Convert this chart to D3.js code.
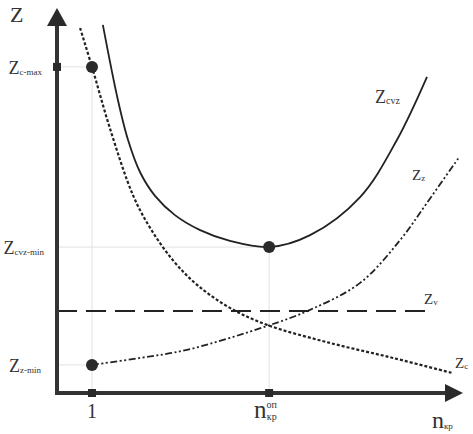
<!DOCTYPE html>
<html>
<head>
<meta charset="utf-8">
<script src="https://cdn.jsdelivr.net/npm/d3@7"></script>
<style>
  body { margin: 0; background: #fff; }
  text { font-family: "Liberation Serif", "DejaVu Serif", serif; fill: #333; }
</style>
</head>
<body>
<svg id="chart"></svg>
<script>
// curve values (x in n units, y in Z units)
let zcX   = [0.66, 1, 1.51, 2.17, 2.66, 3.31, 4, 4.94, 6, 7.8, 9.6, 11.29];
let zcY   = [94.8, 84.7, 68.8, 51.4, 42.9, 34.5, 28.1, 22.1, 17.7, 13.0, 9.1, 5.2];

let zcvzX = [1.31, 1.74, 2.03, 2.37, 2.8, 3.37, 4.09, 4.94, 6.06, 7.23, 8.66, 9.71, 10.57];
let zcvzY = [95.6, 76.1, 65.7, 57.4, 51.2, 46.2, 42.3, 39.5, 37.9, 41.0, 50.9, 65.7, 82.1];

let zzX   = [1, 2.37, 3.71, 6, 7.23, 8.66, 9.8, 10.57, 11.49];
let zzY   = [7.3, 9.1, 11.2, 17.4, 21.6, 28.6, 39.7, 49.4, 61.3];

let zvX   = [0, 10.71];
let zvY   = [21.3, 21.3];

let nOpt = 6.06;
let zcMax = 84.7, zcvzMin = 37.9, zzMin = 7.3;

let width = 473,
    height = 434;

let svg = d3.select("svg#chart")
    .attr("width", width)
    .attr("height", height);

let x = d3.scaleLinear().domain([0, 11.57]).range([57, 462]);
let y = d3.scaleLinear().domain([0, 100]).range([393, 8]);

let line = d3.line()
    .x(d => x(d[0]))
    .y(d => y(d[1]))
    .curve(d3.curveCatmullRom.alpha(0.5));

// light guide lines
let guides = [
    [[0, zcMax], [1, zcMax]],
    [[1, zcMax], [1, 0]],
    [[0, zcvzMin], [nOpt, zcvzMin]],
    [[nOpt, zcvzMin], [nOpt, 0]],
    [[0, zzMin], [1, zzMin]]
];
guides.forEach(g => {
    svg.append("line")
        .attr("x1", x(g[0][0])).attr("y1", y(g[0][1]))
        .attr("x2", x(g[1][0])).attr("y2", y(g[1][1]))
        .attr("stroke", "#e2e2e2")
        .attr("stroke-width", 1);
});

// curves
function drawCurve(xs, ys, dash, w) {
    svg.append("path")
        .datum(xs.map((v, i) => [v, ys[i]]))
        .attr("fill", "none")
        .attr("stroke", "#222")
        .attr("stroke-width", w)
        .attr("stroke-dasharray", dash)
        .attr("d", line);
}
drawCurve(zvX, zvY, "20,9", 2);
drawCurve(zcX, zcY, "3,2", 2.2);
drawCurve(zzX, zzY, "7,2.5,2,2.5,2,2.5", 1.8);
drawCurve(zcvzX, zcvzY, null, 1.8);

// axes
svg.append("line")
    .attr("x1", x(0)).attr("y1", y(0) + 2)
    .attr("x2", x(0)).attr("y2", 22)
    .attr("stroke", "#333").attr("stroke-width", 4);
svg.append("line")
    .attr("x1", x(0) - 2).attr("y1", y(0))
    .attr("x2", 448).attr("y2", y(0))
    .attr("stroke", "#333").attr("stroke-width", 4);
svg.append("path")
    .attr("d", `M${x(0)},8 L${x(0) - 10},26 L${x(0) + 10},26 Z`)
    .attr("fill", "#2a2a2a");
svg.append("path")
    .attr("d", `M463,${y(0)} L445,${y(0) - 9} L445,${y(0) + 9} Z`)
    .attr("fill", "#2a2a2a");

// tick squares
[[0, zcMax], [1, 0], [nOpt, 0]].forEach(p => {
    svg.append("rect")
        .attr("x", x(p[0]) - 4).attr("y", y(p[1]) - 4)
        .attr("width", 8).attr("height", 8)
        .attr("fill", "#2a2a2a");
});

// points
[[1, zcMax], [nOpt, zcvzMin], [1, zzMin]].forEach(p => {
    svg.append("circle")
        .attr("cx", x(p[0])).attr("cy", y(p[1]))
        .attr("r", 6)
        .attr("fill", "#2a2a2a");
});

// labels
function label(px, py, main, sub, anchor, size, subSize, sup) {
    let t = svg.append("text")
        .attr("x", px).attr("y", py)
        .attr("text-anchor", anchor || "start")
        .attr("font-size", size);
    t.append("tspan").text(main);
    if (sup) {
        t.append("tspan").attr("font-size", subSize).attr("dy", -10).text(sup);
        t.append("tspan").attr("font-size", subSize).attr("dx", -10).attr("dy", 12).text(sub);
    } else if (sub) {
        t.append("tspan").attr("font-size", subSize).attr("dy", 1).text(sub);
    }
}
label(10, 22, "Z", null, "start", 22);
label(42, 74, "Z", "c-max", "end", 18, 9);
label(44, 254, "Z", "cvz-min", "end", 18, 9);
label(41, 372, "Z", "z-min", "end", 18, 9);
label(375, 103, "Z", "cvz", "start", 18, 10);
label(412, 180, "Z", "z", "start", 15, 9);
label(424, 304, "Z", "v", "start", 15, 9);
label(455, 368, "Z", "c", "start", 15, 9);
label(x(1), 418, "1", null, "middle", 20);
label(254, 418, "n", "кр", "start", 25, 10, "оп");
label(432, 428, "n", "кр", "start", 24, 9);
</script>
</body>
</html>
